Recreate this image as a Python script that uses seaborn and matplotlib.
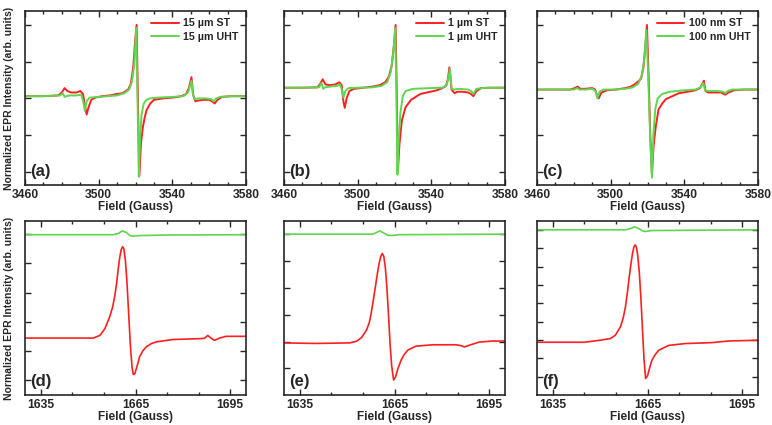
import seaborn as sns
import matplotlib.pyplot as plt
from matplotlib.ticker import MultipleLocator

sns.set_style("ticks")
plt.rcParams["font.family"] = ["Liberation Sans", "DejaVu Sans"]
plt.rcParams["font.weight"] = "bold"

RED = "#ff1f1f"
GREEN = "#5fd64f"

# ---- top row: full spectra (Field in Gauss, normalized intensity) ----
a_field_st = [3460, 3470, 3478, 3480, 3481.5, 3483, 3485, 3488, 3490, 3491.5, 3492.5, 3493.5, 3494.5, 3496,
              3498, 3502, 3506, 3510, 3513, 3516, 3517.5, 3518.8, 3519.7, 3520.6, 3521.3, 3522.1, 3523, 3524,
              3525, 3526, 3528, 3530, 3535, 3540, 3545, 3547.5, 3549, 3550.4, 3551.3, 3552.5, 3554, 3557,
              3560, 3561.5, 3563, 3564.5, 3567, 3572, 3580]
a_st = [0.03, 0.03, 0.04, 0.08, 0.14, 0.10, 0.08, 0.08, 0.10, 0.06, -0.10, -0.22, -0.12, -0.02,
        0.01, 0.03, 0.04, 0.06, 0.07, 0.12, 0.20, 0.43, 0.75, 1.0, 0.0, -1.05, -0.6, -0.39,
        -0.26, -0.16, -0.07, -0.02, 0.0, 0.01, 0.03, 0.06, 0.14, 0.29, 0.05, -0.04, -0.03, -0.02,
        -0.02, -0.04, -0.07, -0.02, 0.02, 0.03, 0.03]
a_field_uht = [3460, 3470, 3479, 3480.5, 3481.5, 3482.5, 3484, 3488, 3490.5, 3491.7, 3492.5, 3493.5, 3495,
               3500, 3505, 3510, 3514, 3516.5, 3518, 3519.3, 3520.4, 3521.1, 3521.8, 3522.5, 3523.3, 3524.5,
               3526, 3528, 3532, 3540, 3546, 3548.5, 3549.5, 3550.4, 3551.2, 3552.2, 3554, 3558, 3561,
               3562.5, 3563.8, 3566, 3572, 3580]
a_uht = [0.03, 0.03, 0.04, 0.07, 0.02, 0.03, 0.04, 0.04, 0.05, -0.05, -0.17, -0.04, 0.01,
         0.02, 0.03, 0.04, 0.07, 0.12, 0.22, 0.45, 0.96, 0.0, -1.07, -0.55, -0.22, -0.07,
         -0.02, 0.0, 0.01, 0.02, 0.03, 0.08, 0.16, 0.24, 0.05, -0.01, 0.0, 0.0, -0.01,
         -0.04, 0.0, 0.02, 0.03, 0.03]

b_field_st = [3460, 3470, 3478, 3479.5, 3481, 3482.5, 3485, 3488, 3490, 3491.3, 3492.3, 3493, 3494, 3495.5,
              3498, 3503, 3508, 3512, 3515, 3517, 3518.5, 3519.7, 3520.6, 3521.2, 3521.8, 3522.7, 3524,
              3526, 3529, 3534, 3543, 3546, 3548, 3549, 3549.8, 3551, 3552.6, 3554, 3557, 3560, 3561.5,
              3562.8, 3564.5, 3567, 3572, 3580]
b_st = [0.145, 0.145, 0.15, 0.19, 0.26, 0.19, 0.18, 0.19, 0.22, 0.18, -0.05, -0.13, 0.0, 0.10,
        0.13, 0.145, 0.16, 0.18, 0.22, 0.30, 0.45, 0.72, 1.0, 0.1, -1.01, -0.62, -0.30,
        -0.12, -0.02, 0.06, 0.11, 0.14, 0.17, 0.26, 0.42, 0.12, 0.07, 0.09, 0.09, 0.08, 0.06,
        0.03, 0.10, 0.14, 0.145, 0.145]
b_field_uht = [3460, 3470, 3479, 3480.4, 3481.3, 3482.3, 3485, 3489, 3490.3, 3491.4, 3492.3, 3493.3, 3495,
               3500, 3508, 3513, 3516, 3518, 3519.3, 3520.4, 3521.0, 3521.6, 3522.3, 3523.2, 3524.5,
               3526, 3530, 3540, 3546, 3548.3, 3549.3, 3550.1, 3551, 3552.3, 3555, 3560, 3561.6,
               3562.8, 3564.5, 3570, 3580]
b_uht = [0.145, 0.145, 0.15, 0.21, 0.13, 0.15, 0.16, 0.17, 0.19, 0.12, 0.01, 0.10, 0.14,
         0.145, 0.15, 0.17, 0.22, 0.36, 0.62, 0.96, 0.1, -1.04, -0.55, -0.2, 0.03,
         0.10, 0.13, 0.14, 0.145, 0.18, 0.28, 0.40, 0.13, 0.12, 0.13, 0.12, 0.10,
         0.06, 0.13, 0.145, 0.145]

c_field_st = [3460, 3470, 3478, 3480.5, 3482, 3483.5, 3486, 3490, 3491.5, 3492.5, 3493.5, 3495, 3498,
              3503, 3508, 3511, 3513.5, 3515, 3516.5, 3517.8, 3518.8, 3519.7, 3520.6, 3521.5, 3522.4,
              3523.3, 3524.5, 3526, 3528, 3530, 3537, 3544, 3546, 3548.5, 3549.8, 3550.6, 3551.5,
              3553, 3557, 3560, 3562.2, 3564, 3567, 3572, 3580]
c_st = [0.12, 0.12, 0.12, 0.14, 0.16, 0.13, 0.13, 0.14, 0.12, 0.05, 0.0, 0.08, 0.11,
        0.12, 0.14, 0.16, 0.20, 0.23, 0.27, 0.42, 0.7, 1.0, 0.3, -0.5, -1.03,
        -0.65, -0.38, -0.15, -0.07, -0.01, 0.07, 0.10, 0.11, 0.14, 0.20, 0.24, 0.10,
        0.08, 0.08, 0.08, 0.05, 0.08, 0.11, 0.12, 0.12]
c_field_uht = [3460, 3470, 3480, 3481.8, 3483, 3486, 3490, 3491.8, 3492.8, 3494, 3496, 3502, 3508, 3512,
               3515, 3517, 3518.3, 3519.4, 3520.4, 3521.4, 3522.4, 3523.2, 3524.2, 3525.5, 3528, 3532,
               3540, 3546, 3548.8, 3550.3, 3551.3, 3553, 3558, 3561, 3562.3, 3563.6, 3566, 3572, 3580]
c_uht = [0.12, 0.12, 0.12, 0.14, 0.12, 0.12, 0.13, 0.10, 0.0, 0.09, 0.12, 0.12, 0.13, 0.15,
         0.20, 0.32, 0.55, 0.93, 0.3, -0.5, -1.08, -0.5, -0.15, 0.0, 0.06, 0.09,
         0.11, 0.12, 0.15, 0.21, 0.11, 0.10, 0.10, 0.09, 0.07, 0.10, 0.12, 0.12, 0.12]

# ---- bottom row: half-field region ----
d_field_st = [1630, 1640, 1651.6, 1653.7, 1655.3, 1656.8, 1657.7, 1658.4, 1659.0, 1659.5, 1660.0, 1660.5,
              1660.9, 1661.3, 1661.8, 1662.3, 1662.8, 1663.4, 1663.9, 1664.3, 1664.8, 1665.5, 1666.3,
              1667.3, 1668.4, 1670, 1671.6, 1676.8, 1685.3, 1686.8, 1687.9, 1688.9, 1690.0, 1691.6,
              1693.7, 1700]
d_st = [1.44, 1.44, 1.44, 1.53, 1.76, 2.16, 2.48, 2.86, 3.3, 3.78, 4.2, 4.48,
        4.57, 4.5, 4.1, 3.35, 2.35, 1.15, 0.45, 0.19, 0.22, 0.48, 0.8,
        1.0, 1.14, 1.25, 1.31, 1.39, 1.42, 1.43, 1.53, 1.44, 1.36, 1.44,
        1.5, 1.5]
d_field_uht = [1630, 1645, 1657.9, 1659.5, 1660.8, 1662.1, 1663.2, 1664.2, 1666.3, 1674.7, 1700]
d_uht = [4.98, 4.98, 4.98, 5.02, 5.11, 5.06, 4.95, 4.93, 4.95, 4.97, 4.98]

e_field_st = [1630, 1640, 1650.8, 1652.9, 1654.5, 1656.1, 1657.0, 1657.6, 1658.3, 1659.0, 1659.6, 1660.1,
              1660.6, 1661.1, 1661.6, 1662.1, 1662.6, 1663.1, 1663.6, 1664.1, 1664.7, 1665.3, 1666.1,
              1667.1, 1668.1, 1669.2, 1671.8, 1677.1, 1684.4, 1686.0, 1687.1, 1688.6, 1691.8, 1696, 1700]
e_st = [0.95, 0.93, 0.95, 1.01, 1.14, 1.42, 1.7, 2.04, 2.55, 3.08, 3.55, 3.89,
        4.15, 4.28, 4.18, 3.75, 3.0, 2.0, 0.9, 0.1, -0.43, -0.33, 0.0,
        0.31, 0.52, 0.68, 0.83, 0.88, 0.88, 0.85, 0.8, 0.86, 0.98, 1.02, 1.02]
e_field_uht = [1630, 1645, 1658.2, 1659.4, 1660.3, 1661.5, 1662.9, 1664.0, 1666.6, 1700]
e_uht = [5.0, 5.0, 5.0, 5.07, 5.12, 5.05, 4.96, 4.95, 4.98, 5.0]

f_field_st = [1630, 1645, 1650, 1653.2, 1654.8, 1656.4, 1657.3, 1658.0, 1658.6, 1659.2, 1659.8, 1660.3,
              1660.7, 1661.1, 1661.5, 1661.9, 1662.4, 1662.9, 1663.4, 1663.9, 1664.4, 1665.0, 1665.7,
              1666.4, 1667.4, 1668.5, 1671.7, 1677.0, 1685.4, 1690.7, 1700]
f_st = [1.88, 1.88, 1.99, 2.08, 2.26, 2.71, 3.2, 3.79, 4.55, 5.42, 6.2, 6.77,
        7.07, 7.18, 7.05, 6.6, 5.7, 4.3, 2.6, 0.95, -0.09, 0.05, 0.5,
        0.90, 1.2, 1.44, 1.71, 1.81, 1.86, 1.95, 1.99]
f_field_uht = [1630, 1645, 1658.0, 1659.6, 1660.9, 1662.2, 1663.5, 1664.3, 1666.4, 1700]
f_uht = [8.0, 8.0, 8.0, 8.07, 8.16, 8.07, 7.94, 7.91, 7.96, 8.0]

legend_names = [("15 µm ST", "15 µm UHT"), ("1 µm ST", "1 µm UHT"), ("100 nm ST", "100 nm UHT")]
tags = ["(a)", "(b)", "(c)", "(d)", "(e)", "(f)"]

fig = plt.figure(figsize=(7.72, 4.25), dpi=100)
lefts = [25 / 772, 284 / 772, 537 / 772]
w = 221 / 772
h = 174 / 425
top_axes = [fig.add_axes([l, 1 - 185 / 425, w, h]) for l in lefts]
bot_axes = [fig.add_axes([l, 1 - 395 / 425, w, h]) for l in lefts]

top_data = [(a_field_st, a_st, a_field_uht, a_uht),
            (b_field_st, b_st, b_field_uht, b_uht),
            (c_field_st, c_st, c_field_uht, c_uht)]
bot_data = [(d_field_st, d_st, d_field_uht, d_uht),
            (e_field_st, e_st, e_field_uht, e_uht),
            (f_field_st, f_st, f_field_uht, f_uht)]
bot_ylims = [(-0.51, 5.45), (-0.99, 5.49), (-0.99, 8.48)]
bot_yticks = [range(0, 6), range(0, 6), range(0, 9)]


def style(ax):
    for s in ax.spines.values():
        s.set_linewidth(1.2)
    ax.tick_params(which="both", direction="in", top=True, right=True, width=1)
    ax.tick_params(which="major", length=4, labelsize=8.7, pad=3)
    ax.tick_params(which="minor", length=2.5)
    ax.set_yticklabels([])
    ax.set_xlabel("Field (Gauss)", fontsize=8.5, fontweight="bold", labelpad=0)
    ax.set_ylabel("")


for i, ax in enumerate(top_axes):
    fx1, y1, fx2, y2 = top_data[i]
    sns.lineplot(x=fx1, y=y1, ax=ax, color=RED, lw=1.4, label=legend_names[i][0])
    sns.lineplot(x=fx2, y=y2, ax=ax, color=GREEN, lw=1.4, label=legend_names[i][1])
    ax.set_xlim(3460, 3580)
    ax.set_ylim(-1.18, 1.19)
    ax.set_xticks([3460, 3500, 3540, 3580])
    ax.xaxis.set_minor_locator(MultipleLocator(10))
    ax.set_yticks([-1, -0.5, 0, 0.5, 1])
    style(ax)
    leg = ax.legend(loc="upper right", frameon=False, fontsize=7.7, handlelength=2.6,
                    borderaxespad=0.3, labelspacing=0.35, handletextpad=0.4)
    for t in leg.get_texts():
        t.set_fontweight("bold")
    ax.text(0.025, 0.05, tags[i], transform=ax.transAxes, fontsize=12, fontweight="bold")

for i, ax in enumerate(bot_axes):
    fx1, y1, fx2, y2 = bot_data[i]
    sns.lineplot(x=fx1, y=y1, ax=ax, color=RED, lw=1.2, legend=False)
    sns.lineplot(x=fx2, y=y2, ax=ax, color=GREEN, lw=1.2, legend=False)
    ax.set_xlim(1630, 1700)
    ax.set_ylim(*bot_ylims[i])
    ax.set_xticks([1635, 1665, 1695])
    ax.set_xticks([1645, 1655, 1675, 1685], minor=True)
    ax.set_yticks(list(bot_yticks[i]))
    style(ax)
    ax.text(0.025, 0.05, tags[i + 3], transform=ax.transAxes, fontsize=12, fontweight="bold")

for ax in (top_axes[0], bot_axes[0]):
    ax.set_ylabel("Normalized EPR Intensity (arb. units)", fontsize=7.5, fontweight="bold")
    ax.yaxis.set_label_coords(-0.05, 0.5)

fig.savefig("out.png", dpi=100)
